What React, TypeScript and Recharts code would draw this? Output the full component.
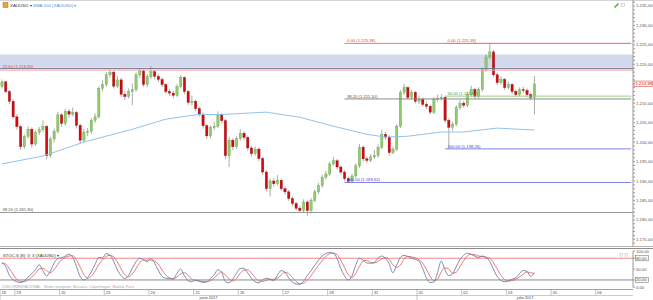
import React from 'react'
import { ComposedChart, LineChart, Bar, Line, XAxis, YAxis, ReferenceLine, ReferenceArea } from 'recharts'

// 2h candles, index 0 = first bar on the left
const opens = [1214.3,1215.5,1213.0,1210.5,1206.5,1204.0,1198.8,1201.5,1203.3,1199.5,
  1202.5,1203.2,1204.0,1196.5,1200.8,1202.8,1207.0,1204.8,1207.9,1207.2,
  1207.6,1204.3,1200.5,1202.5,1202.8,1205.6,1206.5,1213.8,1214.8,1217.3,
  1218.0,1214.4,1216.0,1212.3,1211.7,1213.0,1213.5,1217.3,1218.3,1214.8,
  1216.8,1218.1,1216.9,1216.1,1214.8,1213.0,1212.6,1212.0,1214.3,1216.6,
  1213.0,1210.2,1210.5,1208.6,1207.2,1204.2,1201.6,1203.8,1204.1,1207.0,
  1205.5,1196.5,1200.5,1198.8,1200.9,1202.3,1201.2,1198.5,1197.0,1198.2,
  1195.8,1192.3,1188.0,1190.0,1189.3,1190.2,1188.0,1187.2,1185.5,1184.2,
  1183.0,1182.4,1184.6,1182.4,1185.0,1187.2,1188.8,1191.0,1191.8,1194.4,
  1195.2,1193.6,1192.3,1190.6,1189.9,1191.3,1193.9,1198.7,1195.7,1195.3,
  1196.2,1196.5,1198.7,1202.0,1201.3,1197.3,1198.2,1204.1,1212.8,1214.0,
  1211.5,1212.8,1210.5,1211.0,1209.7,1209.2,1207.7,1211.0,1211.3,1211.5,
  1205.6,1203.8,1204.6,1208.9,1210.0,1209.5,1212.2,1213.5,1211.7,1213.5,
  1218.6,1221.9,1223.2,1217.3,1215.3,1216.1,1214.0,1214.8,1213.0,1212.2,
  1213.5,1213.3,1212.2,1211.5]
const highs = [1216.1,1215.8,1213.4,1211.0,1207.2,1204.5,1202.0,1204.1,1203.8,1203.0,
  1203.9,1205.6,1204.4,1201.4,1203.5,1207.8,1207.5,1208.6,1208.5,1208.9,
  1208.0,1204.8,1203.4,1203.6,1206.2,1207.4,1214.3,1215.9,1218.0,1218.7,
  1218.4,1216.9,1216.5,1213.1,1213.8,1215.1,1217.9,1219.0,1218.7,1217.5,
  1219.5,1218.6,1217.6,1216.6,1215.2,1213.7,1213.2,1214.9,1217.2,1216.9,
  1213.4,1212.0,1211.0,1209.1,1207.6,1204.7,1204.3,1205.2,1207.9,1207.5,
  1206.0,1201.4,1201.0,1201.6,1203.3,1202.8,1201.7,1199.0,1198.9,1198.7,
  1196.2,1192.8,1190.6,1190.7,1191.5,1190.6,1188.6,1187.7,1186.0,1184.7,
  1183.6,1185.3,1185.0,1185.6,1187.8,1189.5,1191.6,1192.6,1195.0,1196.2,
  1195.7,1194.0,1192.8,1191.1,1191.9,1194.5,1199.5,1199.1,1196.3,1196.9,
  1198.0,1199.4,1203.2,1202.6,1201.8,1198.9,1204.7,1213.4,1215.0,1214.4,
  1213.5,1213.2,1211.9,1211.5,1210.4,1209.6,1211.6,1212.2,1212.3,1211.9,
  1206.1,1205.3,1209.5,1210.8,1210.6,1212.9,1214.5,1213.9,1214.1,1219.2,
  1222.6,1225.38,1223.7,1217.8,1216.9,1216.5,1215.6,1215.2,1213.5,1214.1,
  1214.2,1213.8,1212.7,1217.0]
const lows = [1213.8,1212.6,1209.8,1205.9,1203.2,1198.0,1198.3,1200.9,1198.6,1199.0,
  1201.8,1202.6,1195.6,1196.0,1199.9,1202.2,1203.9,1204.2,1206.3,1206.6,
  1203.5,1199.6,1200.0,1201.6,1202.1,1204.9,1206.0,1213.0,1214.2,1216.6,
  1213.8,1213.9,1211.6,1210.8,1211.2,1209.5,1212.9,1216.5,1214.2,1214.1,
  1216.2,1216.1,1215.4,1214.1,1212.4,1211.8,1211.3,1211.6,1213.8,1212.3,
  1209.6,1209.4,1207.9,1206.6,1203.5,1200.8,1201.0,1203.1,1203.6,1204.9,
  1195.6,1193.6,1197.9,1198.2,1200.4,1200.6,1197.8,1196.3,1196.5,1195.1,
  1191.6,1187.3,1186.0,1188.6,1188.8,1187.4,1186.5,1184.9,1183.5,1182.4,
  1181.9,1182.0,1181.0,1181.6,1184.5,1186.7,1188.3,1190.4,1191.3,1193.9,
  1193.0,1191.7,1190.0,1189.6,1189.7,1190.9,1193.4,1195.0,1194.6,1194.8,
  1195.6,1196.0,1198.2,1200.6,1196.5,1196.8,1197.7,1203.6,1212.1,1210.9,
  1211.0,1209.9,1209.8,1209.1,1208.5,1207.1,1207.2,1210.4,1210.7,1205.0,
  1198.3,1202.9,1204.1,1208.3,1208.8,1209.0,1211.7,1211.1,1211.2,1213.0,
  1218.0,1221.3,1216.7,1214.6,1214.8,1213.4,1213.5,1212.3,1211.6,1211.7,
  1212.6,1211.6,1210.8,1207.1]
const closes = [1215.5,1213.0,1210.5,1206.5,1204.0,1198.8,1201.5,1203.3,1199.5,1202.5,
  1203.2,1204.0,1196.5,1200.8,1202.8,1207.0,1204.8,1207.9,1207.2,1207.6,
  1204.3,1200.5,1202.5,1202.8,1205.6,1206.5,1213.8,1214.8,1217.3,1218.0,
  1214.4,1216.0,1212.3,1211.7,1213.0,1213.5,1217.3,1218.3,1214.8,1216.8,
  1218.1,1216.9,1216.1,1214.8,1213.0,1212.6,1212.0,1214.3,1216.6,1213.0,
  1210.2,1210.5,1208.6,1207.2,1204.2,1201.6,1203.8,1204.1,1207.0,1205.5,
  1196.5,1200.5,1198.8,1200.9,1202.3,1201.2,1198.5,1197.0,1198.2,1195.8,
  1192.3,1188.0,1190.0,1189.3,1190.2,1188.0,1187.2,1185.5,1184.2,1183.0,
  1182.4,1184.6,1182.4,1185.0,1187.2,1188.8,1191.0,1191.8,1194.4,1195.2,
  1193.6,1192.3,1190.6,1189.9,1191.3,1193.9,1198.7,1195.7,1195.3,1196.2,
  1196.5,1198.7,1202.0,1201.3,1197.3,1198.2,1204.1,1212.8,1214.0,1211.5,
  1212.8,1210.5,1211.0,1209.7,1209.2,1207.7,1211.0,1211.3,1211.5,1205.6,
  1203.8,1204.6,1208.9,1210.0,1209.5,1212.2,1213.5,1211.7,1213.5,1218.6,
  1221.9,1223.2,1217.3,1215.3,1216.1,1214.0,1214.8,1213.0,1212.2,1213.5,
  1213.3,1212.2,1211.5,1214.98]

// SMA 200, read at a few bars
const smaAt = [0, 11, 22, 35, 44, 49, 53, 59, 71, 80, 89, 98, 103, 109, 118, 124, 133, 143]
const smaValues = [1194.4, 1196.4, 1200.0, 1203.3, 1205.9, 1206.6, 1207.1, 1207.1, 1207.7, 1206.4,
  1204.1, 1202.0, 1201.3, 1201.5, 1202.6, 1202.6, 1203.6, 1203.1]

// stochastic %K / %D per bar
const stochK = [68,58,33,21,15,13,17,28,37,48,62,46,31,44,66,79,81,86,91,84,
  58,30,20,26,42,62,82,81,93,89,72,48,32,24,32,52,70,80,76,70,
  79,67,47,30,25,24,22,38,50,32,18,15,20,17,13,15,24,34,48,42,
  16,12,22,38,52,52,40,25,15,12,20,25,22,18,33,46,42,26,14,9,
  8,16,32,45,60,74,86,93,96,94,80,52,32,20,30,60,80,75,67,66,
  68,80,86,80,65,40,60,82,88,85,80,77,72,52,26,13,14,40,72,48,
  32,36,56,76,88,94,91,86,82,86,82,72,50,30,19,15,17,22,26,37,
  46,44,30,40]
const stochD = [66,64,52,36,22,16,15,20,28,38,50,52,46,40,48,63,75,82,86,87,
  76,56,36,25,30,44,62,75,85,88,84,70,51,35,29,36,51,67,75,75,
  75,72,64,48,34,26,24,28,37,40,33,22,18,17,16,15,18,25,35,42,
  34,23,17,24,38,47,48,39,27,17,16,19,22,22,25,33,41,38,27,16,
  10,11,19,31,46,60,73,85,92,94,90,75,55,35,27,37,57,72,74,69,
  67,71,78,82,77,62,55,61,77,85,84,81,76,67,50,30,18,22,42,53,
  51,39,41,56,73,86,91,90,86,85,83,80,68,51,33,21,17,18,22,28,
  36,42,40,38]

// fibonacci levels drawn from a bar to the right edge
const fibNames = ['0.00 (1.225,38)', '0.00 (1.225,38)', '38.20 (1.211,10)', '50.00 (1.211,82)', '100.00 (1.198,26)', '100.00 (1.189,62)']
const fibValues = [1225.38, 1225.38, 1211.1, 1211.82, 1198.26, 1189.62]
const fibFrom = [92, 119, 92, 119, 119, 92]
const levelNames = ['23.60 (1.218,90)', '38.20 (1.181,90)']
const levelValues = [1218.9, 1181.9]
const zone = [1219.1, 1222.5]

const dayLabels = ['18', '19', '20', '23', '24', '25', '26', '27', '28', '31', '01', '02', '03', '05', '06']
const dayStarts = [-0.5, 3.5, 15.5, 27.5, 39.5, 51.5, 63.5, 75.5, 87.5, 99.5, 111.5, 123.5, 135.5, 147.5, 159.5]
const monthLabels = ['junio 2017', 'julio 2017']
const monthStarts = [-0.5, 111.5]

const SLOTS = 170
const FONT = '"Liberation Sans", Arial, sans-serif'
const lastClose = closes[closes.length - 1]
const priceTicks = Array.from({ length: 63 }, (_, k) => 1174 + k)
const monthMids = monthStarts.map((s, k) => (s + (monthStarts[k + 1] ?? SLOTS - 0.5)) / 2)

const candleRows = Array.from({ length: SLOTS }, (_, i) => {
  const row: any = { i }
  if (i < closes.length) {
    row.open = opens[i]
    row.high = highs[i]
    row.low = lows[i]
    row.close = closes[i]
    row.range = [lows[i], highs[i]]
  }
  const s = smaAt.indexOf(i)
  if (s >= 0) row.sma = smaValues[s]
  return row
})
const stochRows = stochK.map((k, i) => ({ i, k, d: stochD[i] }))

const fmt = (v: number) => v.toFixed(2).replace('.', ',').replace(/^(\d)(\d{3})/, '$1.$2')

const Candle = (props: any) => {
  const { x, y, width, height, payload } = props
  if (!payload || payload.high == null) return <g />
  const top = Math.min(y, y + height)
  const h = Math.abs(height)
  const span = payload.high - payload.low || 1
  const toY = (v: number) => top + ((payload.high - v) / span) * h
  const cx = x + width / 2
  const up = payload.close >= payload.open
  const bTop = toY(Math.max(payload.open, payload.close))
  const bBot = toY(Math.min(payload.open, payload.close))
  return (
    <g>
      <line x1={cx} x2={cx} y1={top} y2={top + h} stroke="#666" strokeWidth={0.55} />
      <rect x={cx - 1.15} y={bTop} width={2.3} height={Math.max(0.6, bBot - bTop)}
        fill={up ? '#8fcc6e' : '#d3090f'} stroke={up ? '#64a046' : '#8e0a0a'} strokeWidth={0.35} />
    </g>
  )
}

const PriceTick = ({ x, y, payload }: any) => {
  const v = payload.value
  if (v % 5 !== 0 || Math.abs(v - lastClose) < 1.5) return <g />
  return <text x={x - 1} y={y} dy={1.5} fontSize={4.3} fill="#555" fontFamily={FONT}>{fmt(v)}</text>
}

const StochTick = ({ x, y, payload }: any) => {
  const v = payload.value
  const boxed = v === 80 || v === 20
  return (
    <g>
      {boxed && <rect x={x - 1.6} y={y - 2.6} width={13} height={5.2} fill="#fbfbf2" stroke="#666" strokeWidth={0.5} />}
      <text x={x - 1} y={y} dy={1.5} fontSize={4.2} fill="#555" fontFamily={FONT}>{v.toFixed(2).replace('.', ',')}</text>
    </g>
  )
}

const DayTick = ({ x, y, index, payload }: any) => {
  const monthEdge = monthStarts.includes(payload.value)
  return (
    <g>
      <line x1={x} x2={x} y1={y + 2} y2={monthEdge ? y + 13 : y + 8} stroke="#999" strokeWidth={0.6} />
      <text x={x + 1.6} y={y + 6.9} fontSize={3.9} fill="#444" fontFamily={FONT}>{dayLabels[index]}</text>
    </g>
  )
}

const MonthTick = ({ x, y, index }: any) => (
  <text x={x} y={y + 4.2} textAnchor="middle" fontSize={3.9} fill="#444" fontFamily={FONT}>{monthLabels[index]}</text>
)

const fibLabel = (text: string, color: string) => (p: any) => (
  <text x={p.viewBox.x + 2.5} y={p.viewBox.y - 1.1} fontSize={4.2} fill={color} fontFamily={FONT}>{text}</text>
)

const priceBox = (p: any) => {
  const bx = p.viewBox.x + p.viewBox.width + 1
  return (
    <g>
      <rect x={bx} y={p.viewBox.y - 2.8} width={18.5} height={5.6} fill="#fff6f2" stroke="#e05050" strokeWidth={0.6} />
      <text x={bx + 1.5} y={p.viewBox.y + 1.5} fontSize={4.3} fill="#d02020" fontFamily={FONT}>{fmt(lastClose)}</text>
    </g>
  )
}

const fibLine = ['#f27878', '#f27878', '#8a8a8a', '#9ccc8c', '#8080ee', '#8080ee']
const fibText = ['#e04848', '#e04848', '#555', '#4f9a45', '#4646cc', '#4646cc']

export default function App() {
  return (
    <div style={{ position: 'relative', width: 653, height: 300, background: '#fff', overflow: 'hidden', fontFamily: FONT }}>
      <style>{'body{margin:0}'}</style>
      <div style={{ position: 'absolute', left: 0, top: 0, width: 653, height: 1, background: '#d4d4d4' }} />
      <div style={{ position: 'absolute', left: 0, top: 0 }}>
        <ComposedChart width={653} height={247} data={candleRows} margin={{ top: 0, right: 0, bottom: 0, left: 0 }} barCategoryGap={0}>
          <XAxis dataKey="i" type="category" hide />
          <YAxis orientation="right" width={20} domain={[1173.03, 1236.54]} allowDataOverflow ticks={priceTicks}
            interval={0} tick={<PriceTick />} tickSize={2} tickLine={{ stroke: '#999' }} axisLine={{ stroke: '#999' }} />
          <ReferenceArea y1={zone[0]} y2={zone[1]} fill="#d4daeb" fillOpacity={1} stroke="none" />
          <ReferenceLine y={levelValues[0]} stroke="#707490" strokeWidth={1} label={fibLabel(levelNames[0], '#e04848')} />
          <ReferenceLine y={levelValues[0] - 0.4} stroke="#f4a4a4" strokeWidth={1} />
          <ReferenceLine y={levelValues[1]} stroke="#999" strokeWidth={1} label={fibLabel(levelNames[1], '#555')} />
          {fibValues.map((v, k) => (
            <ReferenceLine key={k} segment={[{ x: fibFrom[k], y: v }, { x: SLOTS - 1, y: v }]}
              stroke={fibLine[k]} strokeWidth={1} label={fibLabel(fibNames[k], fibText[k])} />
          ))}
          <ReferenceLine y={lastClose} stroke="none" label={priceBox} />
          <Line dataKey="sma" type="linear" stroke="#92c3e8" strokeWidth={1} dot={false} activeDot={false}
            connectNulls isAnimationActive={false} />
          <Bar dataKey="range" shape={<Candle />} activeBar={false} isAnimationActive={false} />
        </ComposedChart>
      </div>
      <div style={{ position: 'absolute', left: 0, top: 246, width: 653, height: 1, background: '#b4b4b4' }} />
      <div style={{ position: 'absolute', left: 0, top: 248, width: 653, height: 1, background: '#8c8c8c' }} />
      <div style={{ position: 'absolute', left: 0, top: 289, width: 633, height: 1, background: '#a0a0a0' }} />
      <div style={{ position: 'absolute', left: 0, top: 295, width: 633, height: 1, background: '#cccccc' }} />
      <div style={{ position: 'absolute', left: 0, top: 249 }}>
        <LineChart width={653} height={51} data={stochRows} margin={{ top: 2, right: 0, bottom: 0, left: 0 }}>
          <XAxis dataKey="i" type="number" domain={[-0.5, SLOTS - 0.5]} allowDataOverflow ticks={dayStarts} interval={0}
            height={8} tick={<DayTick />} tickLine={false} axisLine={false} tickSize={0} tickMargin={0} />
          <XAxis xAxisId="m" dataKey="i" type="number" domain={[-0.5, SLOTS - 0.5]} allowDataOverflow ticks={monthMids} interval={0}
            height={4.8} tick={<MonthTick />} tickLine={false} axisLine={false} tickSize={0} tickMargin={0} />
          <YAxis orientation="right" width={20} domain={[0, 100]} ticks={[0, 20, 50, 80, 100]} interval={0}
            tick={<StochTick />} tickSize={2} tickLine={{ stroke: '#999' }} axisLine={{ stroke: '#999' }} />
          <ReferenceLine y={80} stroke="#f08a8a" strokeWidth={1} />
          <ReferenceLine y={20} stroke="#8a8a8a" strokeWidth={1} />
          <Line dataKey="d" type="monotone" stroke="#e86a6a" strokeWidth={0.9} dot={false} activeDot={false} isAnimationActive={false} />
          <Line dataKey="k" type="monotone" stroke="#6a82a8" strokeWidth={0.9} dot={false} activeDot={false} isAnimationActive={false} />
        </LineChart>
      </div>
      <svg width={653} height={300} style={{ position: 'absolute', left: 0, top: 0, pointerEvents: 'none' }} fontFamily={FONT}>
        <rect x={3} y={2.5} width={5} height={5} fill="#e7a640" stroke="#a86c1c" strokeWidth={0.5} />
        <text x={10} y={7} fontSize={4.4} fill="#333">XAUUSD ▾</text>
        <text x={33} y={7} fontSize={4.4} fill="#4b8fd6">SMA 200 (XAUUSD) ▾</text>
        <path d="M614.5 7.5 L618.5 3.5" stroke="#5aaa3a" strokeWidth={1.6} />
        <rect x={621.5} y={3.5} width={3} height={3} fill="none" stroke="#bbb" strokeWidth={0.6} />
        <text x={3} y={257} fontSize={4.2} fill="#333">STOC-S (8): 3: 3 (XAUUSD) ▾</text>
        <rect x={620} y={253.5} width={2.6} height={2.6} fill="none" stroke="#bbb" strokeWidth={0.5} />
        <rect x={625} y={253.5} width={2.6} height={2.6} fill="none" stroke="#bbb" strokeWidth={0.5} />
        <text x={2} y={288.3} fontSize={3.7} fill="#a8a8a8">CDN ORIENTACIONAL · Sedes europeas: Bruselas, Copenhague, Madrid, París</text>
      </svg>
    </div>
  )
}
